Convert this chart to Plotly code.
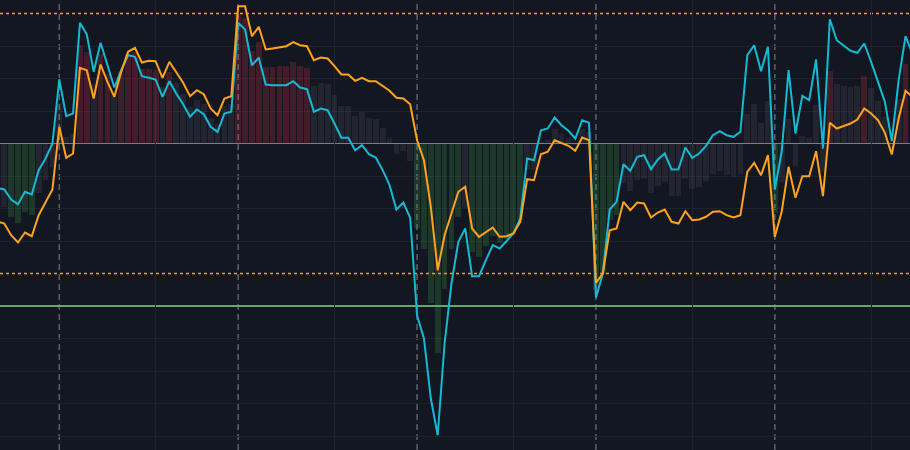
import plotly.graph_objects as go

# bar index (one value per bar / line point)
bar_index = list(range(-9, 125))

fast_line = [
    -44.3, -46, -56, -60.7, -48.3, -51, -26.7, -15, 0,
    64, 27.3, 30, 120.7, 109, 71.7, 100.7, 78.3, 56, 73.3, 88.3, 86.7, 67.3, 65.7, 64, 46.7, 62.3, 50,
    39.3, 26.7, 34, 29.3, 16.7, 11.7, 30, 31.7,
    120.7, 114, 78.3, 85.7, 59, 58.3, 58.3, 58.3, 62.3, 56, 54.3, 31.7, 35, 33.3, 20, 5.7, 5.7, -6.7,
    -1.7, -10.7, -14, -26.7, -41.7, -66, -59, -74.3,
    -171.7, -195, -255, -291.7, -200, -140, -98.3, -85, -132.7, -132.7, -116.7, -101.7, -105, -97.7,
    -90, -75, -15, -16.7, 13.3, 15, 26, 18.3, 12.7, 5, 23.3, 20.7,
    -154.3, -130, -66, -58.3, -20.7, -27.3, -13.3, -11.7, -25.7, -16, -10, -26, -25.7, -4, -14.3,
    -10, -2.3, 8.3, 12.3, 8.3, 6.7, 11.7, 88.3, 98.3, 72.3, 96.7,
    -46, -8.3, 73.3, 10, 47.7, 43.3, 84, -5, 124.3, 103.3, 97.7, 92.7, 90.7, 100, 81.7, 61.7, 41.7,
    2.3, 63.3, 107.3, 90,
]

slow_line = [
    -78, -80, -91.7, -99, -89, -92.7, -71.7, -58.3, -46,
    16.7, -14.3, -10, 75.7, 73.3, 45, 79, 61.7, 46.7, 71.7, 91.7, 95.7, 81, 82.7, 82.3, 65.7, 81.7, 71.7,
    60.7, 47.3, 53.3, 49.3, 35, 28.3, 45, 47.3,
    137.3, 137.3, 107.3, 116.7, 94, 95, 96, 97.3, 101.3, 98.3, 97.3, 83.3, 86, 85, 77.3, 69, 69, 62.7,
    65.7, 62.3, 62.3, 57.3, 52.7, 45.7, 45, 39.3,
    3.3, -16.7, -63.3, -126.7, -91.7, -70, -48.3, -43.3, -85, -93.3, -88.3, -84, -93.3, -92.7,
    -90, -78.3, -35.7, -36.7, -10.7, -8.3, 3.3, 0.7, -2.3, -7.3, 6, 3.3,
    -139.3, -130, -86.7, -85, -58.3, -66.7, -59, -60, -74, -69, -66, -78.3, -80, -67.7, -76.7,
    -76, -73.3, -68.3, -67.7, -71.7, -74, -71.7, -28.3, -19.3, -31.7, -11.7,
    -93.3, -68.3, -23.3, -54.3, -32.7, -32.7, -7.7, -52.7, 20.7, 15, 17.7, 20, 24, 35, 30, 23.3, 10.7,
    -11, 25, 52.7, 46.7,
]

histogram = [
    -61.2, -63, -73.9, -79.9, -68.7, -71.9, -49.2, -36.7, -23,
    40.4, 6.5, 10, 98.2, 91.2, 58.4, 89.9, 70, 51.4, 72.5, 90, 91.2, 74.2, 74.2, 73.2, 56.2, 72, 60.9,
    50, 37, 43.7, 39.3, 25.9, 20, 37.5, 39.5,
    129, 125.7, 92.8, 101.2, 76.5, 76.7, 77.2, 77.8, 81.8, 77.2, 75.8, 57.5, 60.5, 59.2, 48.7, 37.4, 37.4, 28,
    32, 25.8, 24.2, 15.3, 5.5, -10.2, -7, -17.5,
    -84.2, -105.9, -159.2, -209.2, -145.9, -105, -73.3, -64.2, -108.9, -113, -102.5, -92.9, -99.2, -95.2,
    -90, -76.7, -25.4, -26.7, 1.3, 3.4, 14.7, 9.5, 5.2, -1.2, 14.7, 12,
    -146.8, -130, -76.4, -71.7, -39.5, -47, -36.2, -35.9, -49.9, -42.5, -38, -52.2, -52.9, -35.9, -45.5,
    -43, -37.8, -30, -27.7, -31.7, -33.7, -30, 30, 39.5, 20.3, 42.5,
    -69.7, -38.3, 25, -22.2, 7.5, 5.3, 38.2, -28.9, 72.5, 59.2, 57.7, 56.4, 57.4, 67.5, 55.9, 42.5, 26.2,
    -4.4, 44.2, 80, 68.4,
]

# reference levels and markers
upper_level = 130
lower_level = -130
extreme_level = -162.5
strong_threshold = 65
session_breaks = [0, 26, 52, 78, 104]
grid_x = [14, 40, 66, 92, 118]
grid_y = [97.5, 65, 32.5, -32.5, -65, -97.5, -195, -227.5, -260, -292.5]

BG = "#131722"
RED_BAR = "rgba(242,54,69,0.21)"
GREEN_BAR = "rgba(76,175,80,0.21)"
GREY_BAR = "rgba(120,123,134,0.15)"

bar_colors = []
for v in histogram:
    if v > strong_threshold:
        bar_colors.append(RED_BAR)
    elif v < -strong_threshold:
        bar_colors.append(GREEN_BAR)
    else:
        bar_colors.append(GREY_BAR)

fig = go.Figure()
fig.add_trace(go.Bar(x=bar_index, y=histogram, marker=dict(color=bar_colors, line=dict(width=0)),
                     width=0.84, hoverinfo="skip"))
fig.add_trace(go.Scatter(x=bar_index, y=fast_line, mode="lines",
                         line=dict(color="#16b9d2", width=2)))
fig.add_trace(go.Scatter(x=bar_index, y=slow_line, mode="lines",
                         line=dict(color="#ffa31f", width=2)))

for b in session_breaks:
    fig.add_shape(type="line", xref="x", yref="paper", x0=b, x1=b, y0=0, y1=1,
                  line=dict(color="#5d606b", width=1.5, dash="6px,4px"), layer="below")
fig.add_shape(type="line", xref="paper", yref="y", x0=0, x1=1, y0=0, y1=0,
              line=dict(color="#7c7f89", width=1), layer="below")
for lv in (upper_level, lower_level):
    fig.add_shape(type="line", xref="paper", yref="y", x0=0, x1=1, y0=lv, y1=lv,
                  line=dict(color="#ff9c1a", width=1.5, dash="3px,3px"), layer="below")
fig.add_shape(type="line", xref="paper", yref="y", x0=0, x1=1, y0=extreme_level, y1=extreme_level,
              line=dict(color="#5cad62", width=2), layer="below")

fig.update_layout(
    width=910, height=450,
    margin=dict(l=0, r=0, t=0, b=0),
    paper_bgcolor=BG, plot_bgcolor=BG,
    showlegend=False,
    bargap=0,
    xaxis=dict(range=[-8.62, 123.65], tickmode="array", tickvals=grid_x, showticklabels=False,
               showgrid=True, gridcolor="#1e222d", gridwidth=1, zeroline=False, showline=False,
               fixedrange=True),
    yaxis=dict(range=[-306.5, 143.5], tickmode="array", tickvals=grid_y, showticklabels=False,
               showgrid=True, gridcolor="#1e222d", gridwidth=1, zeroline=False, showline=False,
               fixedrange=True),
)

fig.write_html("out.html", config={"displayModeBar": False},
               post_script="document.body.style.margin='0';document.body.style.background='#131722';")
